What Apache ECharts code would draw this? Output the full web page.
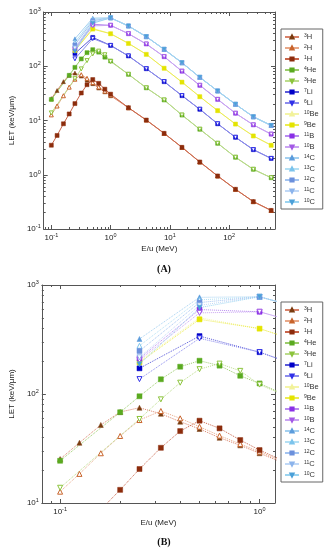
<!DOCTYPE html>
<html><head><meta charset="utf-8">
<script src="https://cdn.jsdelivr.net/npm/echarts@6/dist/echarts.min.js"></script>
<style>html,body{margin:0;padding:0;background:#fff}#c{width:327px;height:550px}</style>
</head><body><div id="c"></div>
<script>
// ---------- data ----------
const energies = [0.1,0.125,0.16,0.2,0.25,0.32,0.4,0.5,0.63,0.8,1,2,4,8,16,32,64,128,256,512];
const let_3H  = [25.3,35.7,52,68.4,74.8,65.9,55.7,47.8,39.7,33.8,28.6, 17.2,10.2,5.8,3.2,1.72,0.95,0.54,0.32,0.22];
const let_2H  = [12.7,18.5,28.6,41.2,57.7,69.8,59.8,50.1,41.5,34.8,29.6, 17.2,10.2,5.8,3.2,1.72,0.95,0.54,0.32,0.22];
const let_1H  = [3.5,5.3,8.7,13.2,20.5,32.1,45.7,56.9,48.4,37.8,30.6, 17.2,10.2,5.8,3.2,1.72,0.95,0.54,0.32,0.22];
const let_4He = [24.4,null,null,68,95.3,136.5,178,202,182,147,125, 71,40,23.9,12.6,6.9,3.8,2.1,1.26,0.88];
const let_3He = [13.8,null,null,null,59,89.3,127,169,190,163,122, 71,40,23.9,12.6,6.9,3.8,2.1,1.26,0.88];
const let_7Li = [null,null,null,null,172,null,null,340,null,null,242, 155,90,52,28.7,16.1,8.7,4.9,2.9,2.0];
const let_6Li = [null,null,null,null,137,null,null,324,null,null,242, 155,90,52,28.7,16.1,8.7,4.9,2.9,2.0];
const let_10Be= [null,null,null,null,200,null,null,500,null,null,398, 264,166,92,51,27.5,15.2,8.6,5.2,3.5];
const let_9Be = [null,null,null,null,195,null,null,484,null,null,398, 264,166,92,51,27.5,15.2,8.6,5.2,3.5];
const let_11B = [null,null,null,null,212,null,null,595,null,null,568, 398,257,150,81,44.5,24.5,13.6,8.3,5.6];
const let_10B = [null,null,null,null,205,null,null,555,null,null,568, 398,257,150,81,44.5,24.5,13.6,8.3,5.6];
const let_14C = [null,null,null,null,320,null,null,771,null,null,780, 552,351,205,116,62.5,35,19.9,11.7,8.1];
const let_13C = [null,null,null,null,277,null,null,730,null,null,780, 552,351,205,116,62.5,35,19.9,11.7,8.1];
const let_12C = [null,null,null,null,248,null,null,690,null,null,780, 552,351,205,116,62.5,35,19.9,11.7,8.1];
const let_11C = [null,null,null,null,217,null,null,650,null,null,780, 552,351,205,116,62.5,35,19.9,11.7,8.1];
const let_10C = [null,null,null,null,187,null,null,620,null,null,780, 552,351,205,116,62.5,35,19.9,11.7,8.1];

const seriesNames = ['3H','2H','1H','4He','3He','7Li','6Li','10Be','9Be','11B','10B','14C','13C','12C','11C','10C'];
const seriesValues = [let_3H,let_2H,let_1H,let_4He,let_3He,let_7Li,let_6Li,let_10Be,let_9Be,let_11B,let_10B,let_14C,let_13C,let_12C,let_11C,let_10C];

const xTicksA = [0.1,1,10,100];
const yTicksA = [0.1,1,10,100,1000];
const xTicksB = [0.1,1];
const yTicksB = [10,100,1000];
const xTitle = 'E/u (MeV)';
const yTitle = 'LET (keV/\u03bcm)';

// ---------- styles ----------
const styles = {
  '3H':  {sym:'triangle', open:false, rot:0,   mc:'#7a3c10', lc:'#d9826a'},
  '2H':  {sym:'triangle', open:true,  rot:0,   mc:'#c8642c', lc:'#e8a888'},
  '1H':  {sym:'rect',     open:false, rot:0,   mc:'#8c2c0c', lc:'#c8644a'},
  '4He': {sym:'rect',     open:false, rot:0,   mc:'#5aaa20', lc:'#9ccc6c'},
  '3He': {sym:'triangle', open:true,  rot:180, mc:'#8cc43c', lc:'#bcdc8c'},
  '7Li': {sym:'rect',     open:false, rot:0,   mc:'#0000c8', lc:'#5a5ad8'},
  '6Li': {sym:'triangle', open:true,  rot:180, mc:'#3030e8', lc:'#8c8cec'},
  '10Be':{sym:'triangle', open:false, rot:0,   mc:'#f2f29a', lc:'#f4f4a8'},
  '9Be': {sym:'rect',     open:false, rot:0,   mc:'#e4e400', lc:'#ecec50'},
  '11B': {sym:'rect',     open:false, rot:0,   mc:'#8a30e6', lc:'#b88cf0'},
  '10B': {sym:'triangle', open:true,  rot:180, mc:'#a45ae6', lc:'#caa4f2'},
  '14C': {sym:'triangle', open:false, rot:0,   mc:'#5c9cdc', lc:'#a4d0f0'},
  '13C': {sym:'triangle', open:true,  rot:0,   mc:'#7cc4ec', lc:'#b4e0f4'},
  '12C': {sym:'rect',     open:false, rot:0,   mc:'#6c90dc', lc:'#a4c4f0'},
  '11C': {sym:'triangle', open:true,  rot:180, mc:'#8cb4ec', lc:'#c0d8f6'},
  '10C': {sym:'triangle', open:false, rot:180, mc:'#4ca0d8', lc:'#9cd4f0'}
};
const FONT = '"Liberation Sans", Arial, sans-serif';
const AX = '#555';
const panels = [
  {grid:{left:33, top:12, width:242, height:217}, xmin:0.0743, xmax:594, ymin:0.1, ymax:1000,
   xt:xTicksA, yt:yTicksA, lineType:'solid', symSize:4, legendTop:29, cap:'(A)', capY:269},
  {grid:{left:33, top:285, width:242, height:218}, xmin:0.081, xmax:1.195, ymin:10, ymax:1000,
   xt:xTicksB, yt:yTicksB, lineType:'dotted', symSize:5, legendTop:302, cap:'(B)', capY:542}
];

function minors(min, max){
  const out=[];
  for(let d=Math.floor(Math.log10(min)); d<=Math.ceil(Math.log10(max)); d++){
    for(let k=2;k<=9;k++){ const v=k*Math.pow(10,d); if(v>min*1.0001 && v<max*0.9999) out.push(v); }
  }
  return out;
}
const labelRich = {
  b:{fontSize:8, fontFamily:FONT, color:'#222', lineHeight:10},
  s:{fontSize:5.5, fontFamily:FONT, color:'#222', lineHeight:6, padding:[0,0,5,0]}
};
function pow10Label(v){ const p=Math.round(Math.log10(v)); return '{b|10}{s|'+p+'}'; }

function axesFor(dim, g, min, max, majors){
  const pos = dim==='x' ? ['bottom','top'] : ['left','right'];
  const base = {type:'log', logBase:10, gridIndex:g, min, max, splitLine:{show:false}, minorTick:{show:false}};
  const list = [];
  pos.forEach((p, pi) => {
    list.push(Object.assign({}, base, {
      position:p,
      axisLine:{show:true, onZero:false, lineStyle:{color:AX, width:1}},
      axisTick:{show:true, inside:true, length:4, customValues:majors, lineStyle:{color:AX, width:1}},
      axisLabel: pi===0 ? {show:true, customValues:majors, formatter:pow10Label, rich:labelRich, margin: dim==='x'?4:3} : {show:false},
      name: pi===0 ? (dim==='x'? xTitle : yTitle) : '',
      nameLocation:'middle',
      nameGap: dim==='x' ? 14 : 19,
      nameTextStyle:{fontSize:8, fontFamily:FONT, color:'#222'}
    }));
    list.push(Object.assign({}, base, {
      position:p,
      axisLine:{show:false, onZero:false},
      axisTick:{show:true, inside:true, length:2, customValues:minors(min,max), lineStyle:{color:AX, width:1}},
      axisLabel:{show:false}
    }));
  });
  return list;
}

const xAxis=[], yAxis=[], grid=[], series=[], legend=[], graphic=[];
panels.forEach((P, g) => {
  grid.push(Object.assign({containLabel:false}, P.grid));
  xAxis.push(...axesFor('x', g, P.xmin, P.xmax, P.xt));
  yAxis.push(...axesFor('y', g, P.ymin, P.ymax, P.yt));
  seriesNames.forEach((name, i) => {
    const st = styles[name];
    const vals = seriesValues[i];
    const data = [];
    energies.forEach((e, k) => { if (vals[k] != null) data.push([e, vals[k]]); });
    series.push({
      type:'line', name, xAxisIndex:g*4, yAxisIndex:g*4, data,
      symbol:st.sym, symbolSize:P.symSize, symbolRotate:st.rot, showAllSymbol:true,
      clip:true, smooth:false, silent:true,
      lineStyle:{color:st.lc, width:1, type:P.lineType},
      itemStyle: st.open ? {color:'#ffffff', borderColor:st.mc, borderWidth:1} : {color:st.mc, borderColor:st.mc, borderWidth:0.5}
    });
  });
  legend.push({
    data: seriesNames, orient:'vertical', left:281, top:P.legendTop,
    itemWidth:14, itemHeight:4, itemGap:3, padding:[4,4,3,3],
    borderColor:'#666', borderWidth:1, backgroundColor:'#fff', selectedMode:false,
    formatter: n => { const m = n.match(/^(\d+)(.*)$/); return '{s|'+m[1]+'}{n|'+m[2]+'}'; },
    textStyle:{fontFamily:FONT, color:'#333', rich:{
      n:{fontSize:7.5, fontFamily:FONT, color:'#333', lineHeight:8},
      s:{fontSize:5, fontFamily:FONT, color:'#333', lineHeight:5, padding:[0,0,3,0]}
    }}
  });
  graphic.push({type:'text', x:164, y:P.capY, style:{text:P.cap, font:'bold 10px "Liberation Serif", "DejaVu Serif", serif', fill:'#111', textAlign:'center', textVerticalAlign:'middle'}});
});

const chart = echarts.init(document.getElementById('c'), null, {renderer:'canvas'});
chart.setOption({backgroundColor:'#fff', animation:false, grid, xAxis, yAxis, series, legend, graphic});
</script></body></html>
